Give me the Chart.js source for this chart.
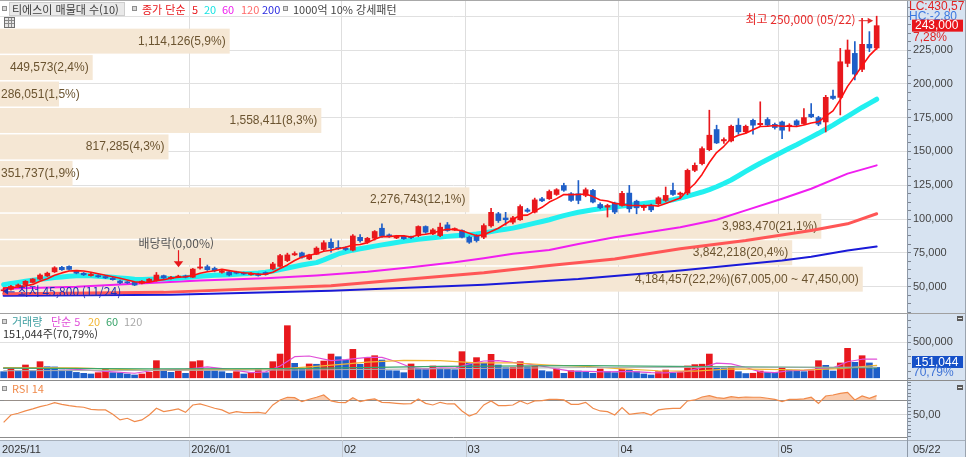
<!DOCTYPE html>
<html lang="ko">
<head>
<meta charset="utf-8">
<title>티에스이 차트</title>
<script src="https://cdn.jsdelivr.net/npm/chart.js@4.4.1/dist/chart.umd.min.js"></script>
<style>
html,body{margin:0;padding:0;background:#fff;}
#wrap{position:relative;width:966px;height:457px;overflow:hidden;background:#fff;}
canvas{position:absolute;left:0;display:block;}
.t{position:absolute;white-space:nowrap;font:11px/12px "Noto Sans CJK KR","Liberation Sans",sans-serif;color:#444;}
.sq{position:absolute;width:3px;height:3px;border:1px solid #8e8e8e;background:#d8d8d8;}
#tbl{position:absolute;left:4px;top:17px;width:9px;height:9px;border:1px solid #6f6f6f;background-color:#e6e6e6;
background-image:linear-gradient(#8a8a8a,#8a8a8a),linear-gradient(#8a8a8a,#8a8a8a),linear-gradient(90deg,#8a8a8a,#8a8a8a),linear-gradient(90deg,#8a8a8a,#8a8a8a);
background-size:100% 1px,100% 1px,1px 100%,1px 100%;background-position:0 2px,0 5px,3px 0,6px 0;background-repeat:no-repeat;}
</style>
</head>
<body>
<div id="wrap">
<canvas id="cPrice" width="966" height="313" style="top:0"></canvas>
<canvas id="cVol" width="966" height="67" style="top:313px"></canvas>
<canvas id="cRsi" width="966" height="77" style="top:380px"></canvas>

<div class="sq" style="left:2px;top:6px"></div>
<div class="t" style="left:9px;top:2px;width:112px;height:12px;background:#e9e9e9;border:1px solid #cdcdcd;padding-left:2px;color:#3c3c3c">티에스이 매물대 수(10)</div>
<div class="sq" style="left:132px;top:6px"></div>
<div class="t" style="left:142px;top:3px;color:#e8181d">종가 단순</div>
<div class="t" style="left:192px;top:3px;color:#e8181d">5</div>
<div class="t" style="left:204px;top:3px;color:#18e3e3">20</div>
<div class="t" style="left:222px;top:3px;color:#ee22ee">60</div>
<div class="t" style="left:241px;top:3px;color:#ff6a6a">120</div>
<div class="t" style="left:262px;top:3px;color:#2b2bdf">200</div>
<div class="sq" style="left:283px;top:6px"></div>
<div class="t" style="left:293px;top:3px;color:#444">1000억 10% 강세패턴</div>
<div id="tbl"></div>

<div class="sq" style="left:2px;top:319px"></div>
<div class="t" style="left:12px;top:315px;color:#3d9ea0">거래량</div>
<div class="t" style="left:51px;top:315px;color:#e04fd8">단순 5</div>
<div class="t" style="left:88px;top:315px;color:#f2b632">20</div>
<div class="t" style="left:106px;top:315px;color:#3aa46b">60</div>
<div class="t" style="left:124px;top:315px;color:#a8a8a8">120</div>
<div class="t" id="volInfo" style="left:3px;top:327px;color:#333"></div>

<div class="sq" style="left:2px;top:386px"></div>
<div class="t" style="left:12px;top:382px;color:#f08a4b">RSI 14</div>
</div>

<script>
// ---------- DATA ----------
const tradingMonths = ['2025-11','2025-12','2026-01','2026-02','2026-03','2026-04','2026-05'];
const daysNov = [24,25,26,27,28];
const daysDec = [1,2,3,4,5,8,9,10,11,12,15,16,17,18,19,22,23,24,26,29,30];
const daysJan = [2,5,6,7,8,9,12,13,14,15,16,19,20,21,22,23,26,27,28,29,30];
const daysFeb = [2,3,4,5,6,9,10,11,12,13,19,20,23,24,25,26,27];
const daysMar = [3,4,5,6,9,10,11,12,13,16,17,18,19,20,23,24,25,26,27,30,31];
const daysApr = [1,2,3,6,7,8,9,10,13,14,15,16,17,20,21,22,23,24,27,28,29,30];
const daysMay = [4,6,7,8,11,12,13,14,15,18,19,20,21,22];

const monthTickLabels = ['2025/11','2026/01','02','03','04','05'];
const monthTickStarts = ['2025-11-24','2026-01-02','2026-02-02','2026-03-03','2026-04-01','2026-05-04'];
const exDividendDate = '2025-12-29';
const exDividendText = '배당락(0,00%)';

const opens = [47000,48000,50200,51000,53200,55600,58000,61000,64300,65000,61300,60000,58200,58200,57500,56200,54200,53400,53200,52500,
53800,54500,58200,56000,57000,58000,57000,63800,64800,63500,60600,61000,60800,60200,58900,59500,60500,63100,65000,69300,
73500,75000,70500,74000,77500,82800,79000,78500,77000,86500,83000,85800,93200,88300,86000,87300,86800,87800,94500,89000,
87800,95700,92000,91500,86600,87300,86600,95000,103900,100800,97700,99500,106800,105100,115000,115000,118200,124800,118700,118700,
117500,121200,110800,108800,111800,110000,119200,113200,108500,110000,111300,113800,121200,118200,119200,136000,141000,151300,166200,157800,
157800,169400,164500,173000,169800,173600,170000,171800,168500,172600,170600,177500,175000,171800,190900,190000,215100,222500,210700,229200,
226500];
const highs = [49000,51000,52000,54500,56000,59500,60800,64800,65000,65500,62000,60500,60000,58800,58000,57000,54800,53800,53600,54500,
56000,60500,58600,57600,58500,58600,63500,71000,66000,64500,62500,61500,61500,60800,60500,60000,61000,68000,74000,74800,
75800,75600,74000,79500,84000,85300,84000,79500,88500,88500,86500,91500,96500,89000,88000,88000,87500,95000,95000,93000,
97000,97500,93500,92000,87500,88500,96500,108000,105000,105000,102000,110500,108000,115500,116000,121500,122500,126500,119500,128500,
123000,122000,112000,111000,112500,120500,124900,114000,110500,111000,116500,123700,126600,120000,137000,141500,153500,180500,169400,160000,
169500,174300,169500,174000,186700,175000,171000,172500,170500,173500,181700,185400,176000,191500,195300,226200,232400,231200,248500,238600,
250000];
const lows = [45800,47500,49500,50500,52800,55000,57500,60500,62000,62300,59500,58300,57800,56900,56000,54800,52300,52400,50800,52000,
53500,54000,56000,55600,56600,56500,56800,63000,62000,61000,60000,58000,59500,59000,58500,57800,58500,62500,64500,68500,
73000,71000,70000,73800,76500,75500,77500,76800,76500,83000,82000,84500,86500,86500,85500,85000,85500,87000,89500,88500,
87000,91000,91500,86000,82000,83000,85500,94000,97500,95500,96500,99000,105000,104500,112800,114500,117500,120500,113000,111300,
116500,112000,107500,101500,104000,109500,105100,103900,106400,105500,110500,113000,117500,115000,118000,135000,140000,150500,155800,156000,
157000,162700,163500,162700,168500,168500,166500,159500,165000,168500,170000,175000,169000,164400,188400,177000,212600,202800,209000,223800,
225500];
const closes = [47450,50200,51300,54000,55700,58600,60000,64000,62600,62800,60000,58800,59200,57300,56500,55200,52800,52900,51200,54000,
55600,58600,56500,57000,57800,57000,63000,64600,62600,61800,61800,58600,60000,59400,59900,58300,59000,66800,73000,73500,
74500,71800,73500,78500,82500,78800,78000,77500,87500,84000,85800,90800,87300,87200,87300,85500,86300,94500,90300,92000,
94000,91500,93000,86600,82900,84100,95200,105000,98900,99500,100900,109300,105700,114200,113500,120400,121700,121300,113800,113800,
121700,112600,108400,110000,105200,119000,107600,108300,109500,106800,115700,117500,118200,119200,136000,139700,152100,162000,156300,158800,
168600,164500,168600,169400,170800,169500,167700,165700,169400,169500,175000,175600,170200,190000,189200,216300,225000,207200,229200,226500,
243000];

const ma5 = [49000,49300,49800,50500,51700,54000,55900,58500,60200,61600,61900,61600,60700,59600,58400,57400,56200,54900,53700,53200,
53300,54500,55200,56300,57100,57400,58300,59900,61000,61800,62800,61900,61000,60300,59900,59200,59300,60700,63400,66100,
69400,71900,73300,74400,76200,77000,78300,79100,80900,81200,82600,85100,87100,87000,87700,87600,86700,88200,88800,89700,
91400,92500,92200,91400,89600,87600,88400,90800,93200,96500,99900,102700,102900,105900,108700,112600,115100,118200,118100,118200,
118500,116600,114100,113300,111600,111000,110000,110000,109900,110200,109600,111600,113500,115500,121300,126100,133000,141800,149200,153800,
159600,162000,163400,166000,168400,168600,169200,168600,168600,168400,169500,171000,171900,176100,180000,188300,198100,205500,213400,220800,
226200];
const ma20 = [51500,52300,53200,54000,54800,55500,56100,56700,57200,57700,58000,58200,58100,57800,57400,57000,56500,56000,55500,55400,
55500,55700,55900,56100,56300,56700,57200,57700,58100,58400,58700,58900,59200,59500,59800,60100,60700,61500,62600,63800,
64900,66000,67000,67800,69800,72000,74200,75800,77000,78000,79000,80000,80900,81800,82700,83600,84300,85000,85600,86200,
86700,87200,87700,88100,88400,88900,89700,90700,91700,92500,93300,94500,95700,97000,98200,99500,101000,102500,103800,105000,
106000,106900,107600,108300,108900,109600,110200,110800,111600,112200,112800,113400,114300,115500,117000,118500,120000,121800,123900,126300,
128900,132000,135200,138300,141300,144000,146800,149600,152400,155000,157800,160600,163400,166400,169500,172800,176000,179200,182500,185600,
188600];
const ma60Points = [[0,48500],[10,50000],[18,52200],[27,54500],[36,56200],[43,58200],[50,61000],[56,64300],[62,68000],[66,71000],
[70,74300],[75,77200],[79,81500],[84,86600],[87,89000],[93,94000],[98,99500],[102,106400],[107,115000],[111,122400],[116,133600],[120,139700]];
const ma120Points = [[0,44800],[22,45800],[45,50700],[53,54400],[66,60300],[75,65600],[84,70500],[93,78000],[102,84100],[111,91500],[116,96500],[120,103900]];
const ma200Points = [[0,43300],[23,44000],[45,47000],[66,51500],[79,55700],[93,61900],[107,69300],[111,72200],[116,76700],[120,79700]];

const volumes = [92000,138000,101000,185000,106000,231000,161000,158000,115000,113000,82000,69000,60000,78000,138000,78000,76000,60000,46000,60000,
83000,245000,101000,83000,124000,69000,231000,245000,106000,104000,92000,69000,92000,60000,78000,129000,78000,231000,337000,731000,
208000,129000,199000,195000,240000,337000,300000,254000,402000,194000,277000,314000,254000,106000,104000,78000,199000,138000,136000,171000,
138000,124000,120000,370000,222000,287000,208000,333000,185000,148000,150000,231000,160000,165000,106000,92000,129000,69000,106000,101000,
83000,69000,129000,92000,78000,124000,115000,92000,60000,46000,92000,115000,75000,80000,171000,190000,196000,337000,138000,136000,
161000,92000,66000,70000,101000,83000,80000,152000,115000,113000,92000,106000,245000,180000,101000,213000,416000,222000,314000,213370,
151044];
const volMa5Points = [[0,140000],[5,150000],[10,125000],[14,95000],[18,70000],[21,115000],[25,125000],[28,160000],[31,125000],[34,80000],
[36,90000],[38,170000],[40,300000],[42,310000],[45,245000],[47,260000],[50,290000],[52,290000],[54,230000],[56,150000],[58,130000],
[60,145000],[62,140000],[64,200000],[66,240000],[68,245000],[70,220000],[72,200000],[74,170000],[76,130000],[78,100000],[80,95000],
[83,90000],[86,95000],[89,80000],[91,75000],[94,100000],[96,150000],[98,210000],[100,200000],[102,150000],[104,90000],[106,80000],
[108,105000],[110,110000],[112,130000],[114,145000],[116,230000],[118,265000],[120,265000]];
const volMa20Points = [[0,150000],[10,145000],[20,110000],[30,120000],[38,130000],[42,160000],[46,190000],[50,225000],[55,250000],[60,245000],
[65,215000],[70,215000],[75,185000],[80,165000],[85,130000],[90,105000],[95,100000],[100,130000],[105,125000],[110,115000],[115,135000],[120,180000]];
const volMa60Points = [[0,140000],[20,130000],[40,135000],[60,165000],[80,175000],[100,160000],[120,145000]];
const volMa120Points = [[0,105000],[40,115000],[80,150000],[120,155000]];

const rsi14 = [39.4,49.6,52,55.2,58,61.2,63.5,66.8,64.4,62.6,61.2,60.3,57.5,56.6,56.6,50.6,42.7,45,40.4,42.7,
49.6,58.9,54.3,56.1,58,53.3,63.5,64.9,62.1,58.9,56.6,51.9,54.3,52.9,52.9,53.3,51.9,63.5,70.5,74.2,
73.7,68.1,71.4,74.2,77.4,69.1,67.2,66.8,73.7,68.1,70.5,71.9,67.2,66.8,65.8,64.9,65.4,71.9,65.8,63.5,
67.2,64.9,64.9,55.2,48.2,51.9,63.5,69.1,62.6,62.6,63.5,69.1,64.9,69.1,69.5,71.4,71.4,70.5,64.4,64.4,
67.2,58.9,55.2,54.3,49.6,59.8,50.6,51.9,52.9,49.6,56.6,58,58.9,58.9,69.1,70.5,74.6,76.5,73.7,72.8,
75.1,73.7,74.6,74.2,74.2,72.8,71.4,68.1,71.4,71.4,71.9,74.2,65.8,76,77.4,79.7,81.1,70.5,76,72.8,
76.5];

// volume profile (매물대), bins from bottom (low price) to top
const profileLow = 47450;
const profileHigh = 243000;
const profileVolumes = [4184457,3842218,3983470,2276743,351737,817285,1558411,286051,449573,1114126];
const sideInfoLC = 'LC:430,57';
const sideInfoHC = 'HC:-2,80';

// ---------- HELPERS ----------
const dayLists = [daysNov,daysDec,daysJan,daysFeb,daysMar,daysApr,daysMay];
const dates = tradingMonths.flatMap((m,k) => dayLists[k].map(d => m + '-' + String(d).padStart(2,'0')));
const mmdd = s => s.slice(5,7) + '/' + s.slice(8,10);
const fmt = v => Math.round(v).toLocaleString('en-US');
const dec = (v,n) => v.toFixed(n).replace('.', ',');
const argMax = a => a.reduce((b,v,i) => v > a[b] ? i : b, 0);
const argMin = a => a.reduce((b,v,i) => v < a[b] ? i : b, 0);
const toXY = arr => arr.map((v,i) => ({x:i, y:v}));
const pairsXY = arr => arr.map(p => ({x:p[0], y:p[1]}));

const PANEL_BG = '#d7e3f1';
const RED = '#e8181d', BLUE = '#1f5fc8';
const X_MAX = 124.17;
const AXIS_W = 58;
const CJK = '"Noto Sans CJK KR", sans-serif';
const LAT = '"Liberation Sans", sans-serif';

Chart.defaults.font.family = LAT;
Chart.defaults.animation = false;

const last = closes.length - 1;
const candleColor = i => closes[i] >= opens[i] ? RED : BLUE;
const volColor = i => (i > 0 && volumes[i] > volumes[i-1]) ? RED : BLUE;

function xScale(showLabels) {
  return {
    type:'linear', min:-0.5, max:X_MAX, offset:false,
    afterBuildTicks: s => { s.ticks = monthTickStarts.map(d => ({value: dates.indexOf(d) - 0.5})); },
    afterFit: s => { s.paddingLeft = 0; s.paddingRight = 0; if (showLabels) s.height = 20; },
    grid: { offset:false, drawTicks:false, color: c => (c.tick && c.tick.value > 0) ? '#dedede' : 'rgba(0,0,0,0)' },
    border: { display:false },
    ticks: showLabels
      ? { display:true, align:'start', labelOffset:2, padding:5, autoSkip:false, maxRotation:0, color:'rgba(0,0,0,0)', font:{size:11}, callback:(v,i) => monthTickLabels[i] }
      : { display:false }
  };
}
// invisible value axis used to size the volume-profile bars
function profileScale() {
  return {
    type:'linear', position:'top', min:0, max:4399000, offset:false,
    afterFit: s => { s.paddingLeft = 0; s.paddingRight = 0; s.height = 0; },
    grid: { display:false, drawTicks:false },
    border: { display:false },
    ticks: { display:false }
  };
}
function yScale(min, max, tickVals, labelFn, gridFn) {
  return {
    type:'linear', position:'right', min, max,
    afterBuildTicks: s => { s.ticks = tickVals.map(v => ({value:v})); },
    afterFit: s => { s.width = AXIS_W; s.paddingTop = 0; s.paddingBottom = 0; },
    grid: { color: c => gridFn(c.tick ? c.tick.value : null), tickColor:'#7d8692', tickLength:4, drawTicks:true },
    border: { display:true, color:'#8e99a7' },
    ticks: { autoSkip:false, padding:2, color:'#444', font:{size:11}, callback: v => labelFn(v) }
  };
}
function range(a, b, s) { const r = []; for (let v = a; v <= b + 1e-9; v += s) r.push(Math.round(v*100)/100); return r; }

function lineDs(data, color, width, order) {
  return { type:'line', data, borderColor:color, borderWidth:width, pointRadius:0, pointHoverRadius:0, fill:false, tension:0, order, borderJoinStyle:'round', borderCapStyle:'round' };
}

const panelPlugin = {
  id:'panelBg',
  beforeDraw(chart) {
    const {ctx, chartArea:a, width, height} = chart;
    ctx.save();
    ctx.fillStyle = '#fff'; ctx.fillRect(0, 0, width, height);
    ctx.fillStyle = PANEL_BG; ctx.fillRect(a.right, 0, width - a.right, height);
    ctx.restore();
  },
  afterDraw(chart, args, opts) {
    const {ctx, width, height} = chart;
    ctx.save();
    ctx.strokeStyle = opts.topColor || '#a2a2a2'; ctx.lineWidth = 1;
    ctx.beginPath(); ctx.moveTo(0, 0.5); ctx.lineTo(width, 0.5); ctx.stroke();
    ctx.strokeStyle = '#9aa3ae';
    ctx.beginPath(); ctx.moveTo(width - 0.5, 0); ctx.lineTo(width - 0.5, height); ctx.stroke();
    ctx.restore();
  }
};
function drawIcon(ctx, x, y) {
  ctx.fillStyle = '#5a5a5a'; ctx.fillRect(x, y, 6, 5);
  ctx.fillStyle = '#e8e8e8'; ctx.fillRect(x + 1, y + 2, 4, 1);
}

// ---------- PRICE CHART ----------
const pricePlugin = {
  id:'priceDeco',
  beforeDatasetsDraw(chart) {
    const {ctx, chartArea:a} = chart;
    const y = chart.scales.y, xv = chart.scales.xv;
    const n = profileVolumes.length;
    const step = (profileHigh - profileLow) / n;
    const total = profileVolumes.reduce((s,v) => s + v, 0);
    const kMax = argMax(profileVolumes);
    ctx.save();
    ctx.beginPath(); ctx.rect(a.left, a.top, a.right - a.left, a.bottom - a.top); ctx.clip();
    profileVolumes.forEach((vol, k) => {
      const lo = profileLow + k * step, hi = lo + step;
      const yt = y.getPixelForValue(hi), yb = y.getPixelForValue(lo);
      const x0 = xv.getPixelForValue(0), x1 = xv.getPixelForValue(vol);
      ctx.fillStyle = '#f5e7d4';
      ctx.fillRect(x0, yt + 3, x1 - x0, yb - yt - 1.5);
      let label = fmt(vol) + '(' + dec(vol / total * 100, 1) + '%)';
      if (k === kMax) label += '(' + fmt(hi) + ',00 ~ ' + fmt(lo) + ',00)';
      ctx.font = '12px ' + LAT;
      ctx.fillStyle = '#6b5430'; ctx.textBaseline = 'middle'; ctx.textAlign = 'left';
      const w = ctx.measureText(label).width;
      let tx = x1 - 4 - w; if (tx < 1) tx = 1;
      ctx.fillText(label, tx, (yt + yb) / 2 + 2.5);
    });
    ctx.restore();
  },
  afterDatasetsDraw(chart) {
    const {ctx} = chart;
    const x = chart.scales.x, y = chart.scales.y;
    ctx.save();
    // highest
    const iH = argMax(highs);
    const hx = x.getPixelForValue(iH), hy = y.getPixelForValue(highs[iH]);
    ctx.font = '12px ' + CJK; ctx.textBaseline = 'middle'; ctx.textAlign = 'right';
    ctx.fillStyle = '#e62a2a';
    ctx.fillText('최고 ' + fmt(highs[iH]) + ' (' + mmdd(dates[iH]) + ')', hx - 21, hy + 3);
    ctx.strokeStyle = '#e62a2a'; ctx.lineWidth = 1;
    ctx.beginPath(); ctx.moveTo(hx - 18, hy + 4.5); ctx.lineTo(hx - 7, hy + 4.5); ctx.stroke();
    ctx.beginPath(); ctx.moveTo(hx - 3.5, hy + 4.5); ctx.lineTo(hx - 9, hy + 1.5); ctx.lineTo(hx - 9, hy + 7.5); ctx.closePath(); ctx.fill();
    // lowest
    const iL = argMin(lows);
    const lx = x.getPixelForValue(iL), ly = y.getPixelForValue(lows[iL]) - 1;
    ctx.fillStyle = '#1f2fb5'; ctx.strokeStyle = '#1f2fb5';
    ctx.beginPath(); ctx.moveTo(lx - 0.5, ly); ctx.lineTo(lx + 4.5, ly - 3.5); ctx.lineTo(lx + 4.5, ly + 3.5); ctx.closePath(); ctx.fill();
    ctx.beginPath(); ctx.moveTo(lx + 4, ly + 0.5); ctx.lineTo(lx + 11, ly + 0.5); ctx.stroke();
    ctx.textAlign = 'left';
    ctx.fillText('최저 ' + fmt(lows[iL]) + ' (' + mmdd(dates[iL]) + ')', lx + 14, ly);
    // ex-dividend marker
    const iD = dates.indexOf(exDividendDate);
    const dx = x.getPixelForValue(iD), dy = y.getPixelForValue(highs[iD]);
    ctx.fillStyle = '#555'; ctx.textAlign = 'center';
    ctx.fillText(exDividendText, dx - 2, dy - 32);
    ctx.strokeStyle = '#e8181d'; ctx.fillStyle = '#e8181d'; ctx.lineWidth = 1.2;
    ctx.beginPath(); ctx.moveTo(Math.round(dx) + 0.5, dy - 25); ctx.lineTo(Math.round(dx) + 0.5, dy - 13); ctx.stroke();
    ctx.beginPath(); ctx.moveTo(dx - 4.5, dy - 14); ctx.lineTo(dx + 5, dy - 14); ctx.lineTo(dx + 0.3, dy - 8); ctx.closePath(); ctx.fill();
    ctx.restore();
  },
  afterDraw(chart) {
    const {ctx, chartArea:a} = chart;
    const y = chart.scales.y;
    const cy = y.getPixelForValue(closes[last]);
    const chg = (closes[last] / closes[last - 1] - 1) * 100;
    ctx.save();
    ctx.font = '12px ' + LAT; ctx.textBaseline = 'middle'; ctx.textAlign = 'left';
    ctx.fillStyle = '#e02525'; ctx.fillText(sideInfoLC, a.right + 2, 7);
    ctx.fillStyle = '#3a78e0'; ctx.fillText(sideInfoHC, a.right + 2, 17);
    ctx.fillStyle = '#e8161c'; ctx.fillRect(a.right + 5, cy - 6, 51, 12);
    ctx.fillStyle = '#fff'; ctx.fillText(fmt(closes[last]), a.right + 8, cy + 0.5);
    ctx.fillStyle = '#e02525'; ctx.fillText(dec(chg, 2) + '%', a.right + 6, cy + 12);
    ctx.restore();
  }
};

new Chart(document.getElementById('cPrice'), {
  type:'bar',
  data:{ datasets:[
    lineDs(toXY(ma5), '#ff1010', 1.6, 0),
    { type:'bar', data: closes.map((c,i) => ({x:i, y:[lows[i], highs[i]]})), backgroundColor: c => candleColor(c.dataIndex), barThickness:1, grouped:false, borderWidth:0, order:1 },
    { type:'bar', data: closes.map((c,i) => ({x:i, y:[opens[i], c]})), backgroundColor: c => candleColor(c.dataIndex), barThickness:5, minBarLength:1, grouped:false, borderWidth:0, order:1 },
    lineDs(toXY(ma20), '#22f0f0', 5, 2),
    lineDs(pairsXY(ma60Points), '#f01ef0', 2, 3),
    lineDs(pairsXY(ma120Points), '#ff5656', 3, 4),
    lineDs(pairsXY(ma200Points), '#1a1ad8', 2, 5)
  ]},
  options:{
    responsive:false, animation:false, events:[],
    layout:{ padding:{left:0, right:1, top:0, bottom:0} },
    plugins:{ legend:{display:false}, tooltip:{enabled:false}, panelBg:{topColor:'#a8a8a8'} },
    scales:{
      x: xScale(false),
      xv: profileScale(),
      y: yScale(30550, 261970, range(31250, 256250, 6250),
          v => (v % 25000 === 0 && v >= 50000 && v <= 225000) ? fmt(v) : '',
          v => (v !== null && v % 25000 === 0) ? '#e0e0e0' : 'rgba(0,0,0,0)')
    }
  },
  plugins:[panelPlugin, pricePlugin]
});

// ---------- VOLUME CHART ----------
document.getElementById('volInfo').textContent =
  fmt(volumes[last]) + '주(' + dec(volumes[last] / volumes[last - 1] * 100, 2) + '%)';

const volPlugin = {
  id:'volDeco',
  afterDraw(chart) {
    const {ctx, chartArea:a} = chart;
    const y = chart.scales.y;
    const vy = Math.min(y.getPixelForValue(volumes[last]), a.bottom - 18);
    ctx.save();
    ctx.font = '12px ' + LAT; ctx.textBaseline = 'middle'; ctx.textAlign = 'left';
    ctx.fillStyle = '#1550c8'; ctx.fillRect(a.right + 5, vy - 6, 51, 12);
    ctx.fillStyle = '#fff'; ctx.fillText(fmt(volumes[last]), a.right + 8, vy + 0.5);
    ctx.fillStyle = '#3f73d6'; ctx.fillText(dec(volumes[last] / volumes[last - 1] * 100, 2) + '%', a.right + 6, vy + 11);
    drawIcon(ctx, a.right + 50, 3);
    ctx.restore();
  }
};

new Chart(document.getElementById('cVol'), {
  type:'bar',
  data:{ datasets:[
    { type:'bar', data: toXY(volumes), backgroundColor: c => volColor(c.dataIndex), barThickness:6, grouped:false, borderWidth:0, order:1 },
    lineDs(pairsXY(volMa120Points), '#b0b0b0', 1, 0),
    lineDs(pairsXY(volMa60Points), '#3aa46b', 1.2, 0),
    lineDs(pairsXY(volMa20Points), '#f2b632', 1.2, 0),
    lineDs(pairsXY(volMa5Points), '#e04fd8', 1.2, 0)
  ]},
  options:{
    responsive:false, animation:false, events:[],
    layout:{ padding:{left:0, right:1, top:0, bottom:0} },
    plugins:{ legend:{display:false}, tooltip:{enabled:false}, panelBg:{topColor:'#a0a0a0'} },
    scales:{
      x: xScale(false),
      y: yScale(-23600, 907000, range(0, 900000, 100000),
          v => v === 500000 ? fmt(v) : '',
          v => v === 500000 ? '#e0e0e0' : 'rgba(0,0,0,0)')
    }
  },
  plugins:[panelPlugin, volPlugin]
});

// ---------- RSI CHART ----------
const rsiPlugin = {
  id:'rsiDeco',
  afterDraw(chart) {
    const {ctx, chartArea:a, width, height} = chart;
    const x = chart.scales.x;
    ctx.save();
    ctx.fillStyle = PANEL_BG; ctx.fillRect(0, a.bottom + 3, width, height - a.bottom - 3);
    ctx.strokeStyle = '#8c8c8c'; ctx.lineWidth = 1;
    ctx.beginPath(); ctx.moveTo(0, a.bottom + 0.5); ctx.lineTo(a.right, a.bottom + 0.5); ctx.stroke();
    ctx.strokeStyle = '#a7b0bb';
    ctx.beginPath(); ctx.moveTo(0, a.bottom + 3.5); ctx.lineTo(width, a.bottom + 3.5); ctx.stroke();
    ctx.strokeStyle = '#c2c8d0';
    x.ticks.forEach(t => {
      if (t.value <= 0) return;
      const px = Math.round(x.getPixelForValue(t.value)) + 0.5;
      ctx.beginPath(); ctx.moveTo(px, a.bottom + 3); ctx.lineTo(px, height); ctx.stroke();
    });
    ctx.strokeStyle = '#8e99a7';
    ctx.beginPath(); ctx.moveTo(a.right + 0.5, a.bottom); ctx.lineTo(a.right + 0.5, height); ctx.stroke();
    ctx.strokeStyle = '#9aa3ae';
    ctx.beginPath(); ctx.moveTo(width - 0.5, 0); ctx.lineTo(width - 0.5, height); ctx.stroke();
    ctx.font = '11px ' + LAT; ctx.fillStyle = '#333'; ctx.textBaseline = 'middle'; ctx.textAlign = 'left';
    x.ticks.forEach((t, i) => {
      ctx.fillText(monthTickLabels[i], x.getPixelForValue(t.value) + 2, (a.bottom + 3 + height) / 2 + 1);
    });
    ctx.fillText(mmdd(dates[last]), a.right + 6, (a.bottom + 3 + height) / 2 + 1);
    drawIcon(ctx, a.right + 50, 5);
    ctx.restore();
  }
};

new Chart(document.getElementById('cRsi'), {
  type:'line',
  data:{ datasets:[
    { type:'line', data: toXY(rsi14), borderColor:'#f08a4b', borderWidth:1.2, pointRadius:0, tension:0,
      fill:{ target:{value:70}, above:'rgba(246,168,118,0.6)', below:'rgba(0,0,0,0)' } }
  ]},
  options:{
    responsive:false, animation:false, events:[],
    layout:{ padding:{left:0, right:1, top:0, bottom:0} },
    plugins:{ legend:{display:false}, tooltip:{enabled:false}, panelBg:{topColor:'#8c8c8c'} },
    scales:{
      x: xScale(true),
      y: yScale(19, 98.2, range(20, 95, 5),
          v => v === 50 ? dec(v, 2) : '',
          v => v === 70 ? '#8c8c8c' : (v === 50 ? '#d9d9d9' : 'rgba(0,0,0,0)'))
    }
  },
  plugins:[panelPlugin, rsiPlugin]
});
</script>
</body>
</html>
